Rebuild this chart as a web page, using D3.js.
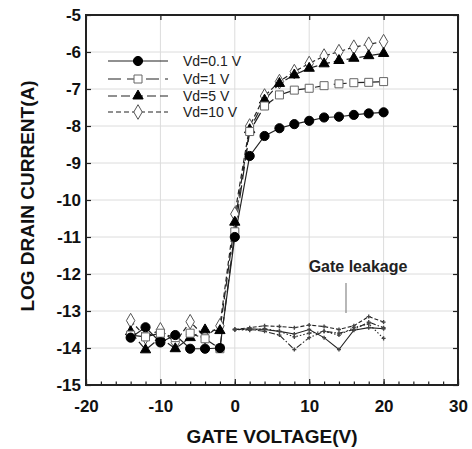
<!DOCTYPE html>
<html>
<head>
<meta charset="utf-8">
<script src="https://cdn.jsdelivr.net/npm/d3@7"></script>
<style>
  body { margin: 0; background: #fff; }
  svg text { font-family: "Liberation Sans", Arial, sans-serif; }
</style>
</head>
<body>
<div id="chart"></div>
<script>
// gate voltage points (V)
var vg = [-14, -12, -10, -8, -6, -4, -2, 0, 2, 4, 6, 8, 10, 12, 14, 16, 18, 20];
// log drain current for each Vd
var vd01 = [-13.72, -13.44, -13.85, -13.65, -14.02, -14.02, -14.0, -11.0, -8.81, -8.27, -8.06, -7.95, -7.86, -7.77, -7.75, -7.70, -7.66, -7.63];
var vd1 = [-13.65, -13.7, -13.6, -13.72, -13.6, -13.75, -14.02, -10.86, -8.15, -7.46, -7.16, -7.03, -6.98, -6.91, -6.86, -6.83, -6.82, -6.80];
var vd5 = [-13.56, -14.05, -13.72, -14.02, -13.72, -13.51, -13.53, -10.6, -8.1, -7.3, -6.85, -6.62, -6.44, -6.32, -6.23, -6.17, -6.10, -6.04];
var vd10 = [-13.26, -13.7, -13.51, -13.85, -13.29, -13.7, -13.4, -10.38, -8.0, -7.19, -6.8, -6.53, -6.31, -6.11, -5.99, -5.87, -5.79, -5.72];

// gate leakage (log current) after turn-on
var vgLeak = [0, 2, 4, 6, 8, 10, 12, 14, 16, 18, 20];
var leak01 = [-13.5, -13.48, -13.5, -13.55, -13.62, -13.5, -13.72, -14.04, -13.52, -13.45, -13.48];
var leak1 = [-13.5, -13.5, -13.55, -13.65, -14.04, -13.72, -13.55, -13.6, -13.5, -13.3, -13.45];
var leak5 = [-13.5, -13.45, -13.4, -13.42, -13.45, -13.38, -13.42, -13.5, -13.4, -13.15, -13.3];
var leak10 = [-13.5, -13.52, -13.48, -13.55, -13.7, -13.6, -13.55, -13.65, -13.45, -13.35, -13.74];

var legendNames = ['Vd=0.1 V', 'Vd=1 V', 'Vd=5 V', 'Vd=10 V'];
var xTicks = [-20, -10, 0, 10, 20, 30];
var yTicks = [-15, -14, -13, -12, -11, -10, -9, -8, -7, -6, -5];

var W = 472, H = 449;
var L = 86, R = 458, T = 15, B = 385;

var svg = d3.select('#chart').append('svg').attr('width', W).attr('height', H);

var x = d3.scaleLinear().domain([-20, 30]).range([L, R]);
var y = d3.scaleLinear().domain([-15, -5]).range([B, T]);

// grid
svg.append('g').selectAll('line').data(xTicks.slice(1, -1)).enter().append('line')
	.attr('x1', d => x(d)).attr('x2', d => x(d)).attr('y1', T).attr('y2', B)
	.attr('stroke', '#dcdcdc').attr('stroke-width', 1);
svg.append('g').selectAll('line').data(yTicks.slice(1, -1)).enter().append('line')
	.attr('y1', d => y(d)).attr('y2', d => y(d)).attr('x1', L).attr('x2', R)
	.attr('stroke', '#dcdcdc').attr('stroke-width', 1);

var fmt = d => String(d);

// axes
var gB = svg.append('g').attr('transform', 'translate(0,' + B + ')')
	.call(d3.axisBottom(x).tickValues(xTicks).tickSize(-6).tickPadding(15).tickFormat(fmt));
var gBm = svg.append('g').attr('transform', 'translate(0,' + B + ')')
	.call(d3.axisBottom(x).tickValues(d3.range(-20, 31, 2)).tickSize(-3.5).tickFormat(''));
var gL = svg.append('g').attr('transform', 'translate(' + L + ',0)')
	.call(d3.axisLeft(y).tickValues(yTicks).tickSize(-5).tickPadding(5).tickFormat(fmt));
var gT = svg.append('g').attr('transform', 'translate(0,' + T + ')')
	.call(d3.axisTop(x).tickValues(xTicks).tickSize(-5).tickFormat(''));
var gR = svg.append('g').attr('transform', 'translate(' + R + ',0)')
	.call(d3.axisRight(y).tickValues(yTicks).tickSize(-5).tickFormat(''));

[gB, gBm, gL, gT, gR].forEach(g => {
	g.select('.domain').remove();
	g.selectAll('line').attr('stroke', '#222').attr('stroke-width', 1.2);
	g.selectAll('text').attr('font-size', 17).attr('font-weight', 'bold').attr('fill', '#111')
		.style('font-family', '"Liberation Sans", Arial, sans-serif');
});

// frame
svg.append('rect').attr('x', L).attr('y', T).attr('width', R - L).attr('height', B - T)
	.attr('fill', 'none').attr('stroke', '#222').attr('stroke-width', 2);

// axis titles
svg.append('text').attr('x', (L + R) / 2).attr('y', 443).attr('text-anchor', 'middle')
	.attr('font-size', 19).attr('font-weight', 'bold').attr('fill', '#111').text('GATE VOLTAGE(V)');
svg.append('text').attr('transform', 'translate(34,' + 196 + ')rotate(-90)').attr('text-anchor', 'middle')
	.attr('font-size', 19).attr('font-weight', 'bold').attr('fill', '#111').text('LOG DRAIN CURRENT(A)');

// gate leakage curves
var leakStyles = [
	{ v: leak01, dash: null },
	{ v: leak1, dash: '6,2,1.5,2' },
	{ v: leak5, dash: '4,2' },
	{ v: leak10, dash: '1.5,2' }
];
var line = d3.line().x(d => x(d[0])).y(d => y(d[1]));
leakStyles.forEach(s => {
	var pts = vgLeak.map((v, i) => [v, s.v[i]]);
	svg.append('path').attr('d', line(pts)).attr('fill', 'none')
		.attr('stroke', '#222').attr('stroke-width', 1.1)
		.attr('stroke-dasharray', s.dash);
	svg.append('g').selectAll('path').data(pts).enter().append('path')
		.attr('transform', d => 'translate(' + x(d[0]) + ',' + y(d[1]) + ')')
		.attr('d', d3.symbol().type(d3.symbolCross).size(9))
		.attr('fill', '#444');
});

// transfer curves
var series = [
	{ v: vd01, dash: null, sym: d3.symbolCircle, size: 66, fill: '#000', stroke: '#000' },
	{ v: vd1, dash: '13,6', sym: d3.symbolSquare, size: 64, fill: '#fff', stroke: '#666' },
	{ v: vd5, dash: '9,4', sym: d3.symbolTriangle, size: 46, fill: '#000', stroke: '#000' },
	{ v: vd10, dash: '5,3', sym: d3.symbolDiamond, size: 62, fill: '#fff', stroke: '#555' }
];

series.forEach(s => {
	var pts = vg.map((v, i) => [v, s.v[i]]);
	svg.append('path').attr('d', line(pts)).attr('fill', 'none')
		.attr('stroke', '#222').attr('stroke-width', 1.2)
		.attr('stroke-dasharray', s.dash);
});
series.slice().reverse().forEach(s => {
	var pts = vg.map((v, i) => [v, s.v[i]]);
	svg.append('g').selectAll('path').data(pts).enter().append('path')
		.attr('transform', d => 'translate(' + x(d[0]) + ',' + y(d[1]) + ')')
		.attr('d', d3.symbol().type(s.sym).size(s.size))
		.attr('fill', s.fill).attr('stroke', s.stroke).attr('stroke-width', 1);
});

// legend
var legend = svg.append('g');
var rowY = [61, 79, 96, 112];
series.forEach((s, i) => {
	var g = legend.append('g').attr('transform', 'translate(0,' + rowY[i] + ')');
	g.append('line').attr('x1', 108).attr('x2', 168).attr('y1', 0).attr('y2', 0)
		.attr('stroke', '#222').attr('stroke-width', 1.2).attr('stroke-dasharray', s.dash);
	g.append('path').attr('transform', 'translate(138,0)')
		.attr('d', d3.symbol().type(s.sym).size(s.size))
		.attr('fill', s.fill).attr('stroke', s.stroke).attr('stroke-width', 1);
	g.append('text').attr('x', 183).attr('y', 5).attr('font-size', 14).attr('fill', '#222')
		.text(legendNames[i]);
});

// gate leakage annotation
svg.append('text').attr('x', 358).attr('y', 272).attr('text-anchor', 'middle')
	.attr('font-size', 16).attr('font-weight', 'bold').attr('fill', '#222').text('Gate leakage');
svg.append('line').attr('x1', 346).attr('x2', 346).attr('y1', 283).attr('y2', 313)
	.attr('stroke', '#888').attr('stroke-width', 1.2);
</script>
</body>
</html>
